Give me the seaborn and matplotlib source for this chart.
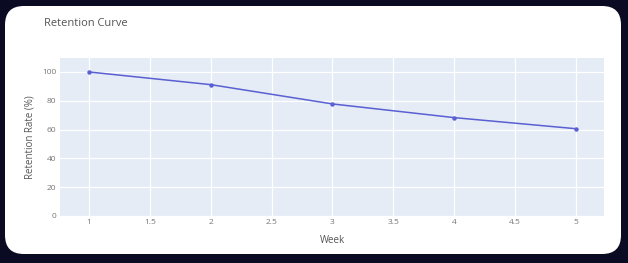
import matplotlib
matplotlib.use("Agg")
import matplotlib.pyplot as plt
import seaborn as sns
import pandas as pd
from matplotlib.patches import FancyBboxPatch

weeks = [1, 2, 3, 4, 5]
retention = [100, 91.2, 77.8, 68.3, 60.6]
x_ticks = [1, 1.5, 2, 2.5, 3, 3.5, 4, 4.5, 5]
x_tick_labels = ["1", "1.5", "2", "2.5", "3", "3.5", "4", "4.5", "5"]
y_ticks = [0, 20, 40, 60, 80, 100]

df = pd.DataFrame({"Week": weeks, "Retention": retention})

sns.set_theme(style="white")
plt.rcParams['font.family'] = ['Open Sans', 'DejaVu Sans']

fig = plt.figure(figsize=(6.28, 2.63), dpi=100)
fig.patch.set_facecolor("#0a0a22")
card = FancyBboxPatch((5/628, 1 - 254/263), 616/628, 248/263,
                      boxstyle="round,pad=0,rounding_size=0.03",
                      transform=fig.transFigure, facecolor="white",
                      edgecolor="none", mutation_aspect=628/263, zorder=-10)
fig.patches.append(card)

ax = fig.add_axes([60/628, 1 - 216/263, 544/628, 158/263])
ax.set_zorder(1)
ax.set_facecolor("#E5ECF6")
sns.lineplot(data=df, x="Week", y="Retention", ax=ax, color="#5a5fd2",
             marker="o", markersize=3.2, markeredgewidth=0, linewidth=1.1)
ax.set_xlim(0.762, 5.23)
ax.set_ylim(0, 109.7)
ax.set_xticks(x_ticks)
ax.set_xticklabels(x_tick_labels)
ax.set_yticks(y_ticks)
ax.grid(True, color="white", linewidth=0.9)
ax.set_axisbelow(True)
for s in ax.spines.values():
    s.set_visible(False)
ax.tick_params(axis="both", length=0, labelsize=6, colors="#777777", pad=2.5)
ax.set_xlabel("Week", fontsize=7, color="#555555", labelpad=6)
ax.set_ylabel("Retention Rate (%)", fontsize=7, color="#555555", labelpad=5)
fig.text(44/628, 1 - 24/263, "Retention Curve", fontsize=8, color="#555555",
         va="center", ha="left")

fig.savefig("out.png", dpi=100, facecolor=fig.get_facecolor())
